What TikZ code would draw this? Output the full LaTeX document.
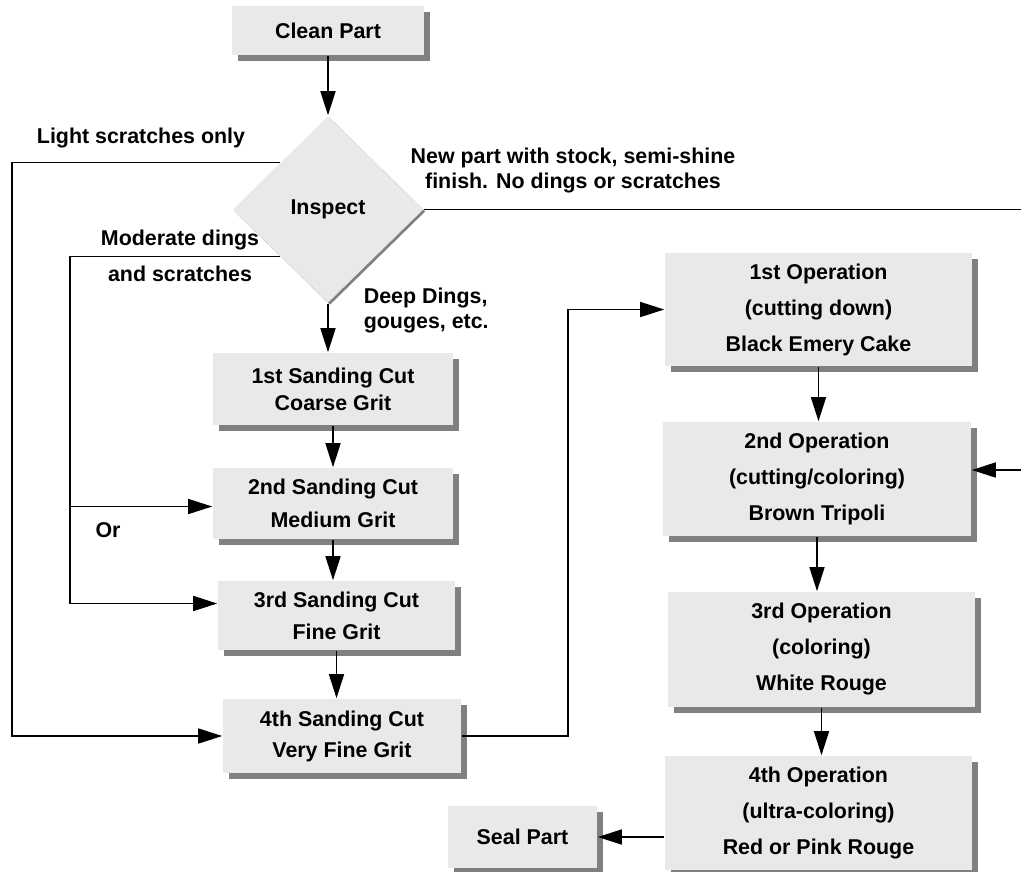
\documentclass[tikz,border=0pt]{standalone}
\usepackage{fontspec}
\setmainfont{Liberation Sans}
\usetikzlibrary{shapes.geometric, shadows}
\usetikzlibrary{arrows.meta}
\definecolor{boxgray}{RGB}{233,233,233}
\definecolor{shadowgray}{RGB}{128,128,128}

\begin{document}
\begin{tikzpicture}[x=1pt, y=-1pt, line width=1.6pt,
  font=\bfseries\fontsize{21.4}{26}\selectfont,
  box/.style={fill=boxgray, inner sep=0pt, align=center,
    drop shadow={shadow xshift=6pt, shadow yshift=-6pt, fill=shadowgray, opacity=1}},
  decision/.style={diamond, fill=boxgray, inner sep=0pt,
    drop shadow={shadow xshift=2pt, shadow yshift=-2pt, fill=shadowgray, opacity=1}},
  lbl/.style={inner sep=0pt, align=center},
  arr/.style={-{Triangle[length=24pt, width=15pt]}}]%
  \useasboundingbox (0,0) rectangle (1021,871);

  \node[box, minimum width=192pt, minimum height=49pt] (clean) at (328,30.5) {Clean Part};
  \node[decision, minimum width=191pt, minimum height=187pt] (insp) at (328,209.5) {Inspect};

  \node[box, minimum width=240pt, minimum height=72pt] (s1) at (333,389)
    {1st Sanding Cut\\[1pt]Coarse Grit};
  \node[box, minimum width=240pt, minimum height=71pt] (s2) at (333,503.5)
    {2nd Sanding Cut\\[7pt]Medium Grit};
  \node[box, minimum width=237pt, minimum height=69pt] (s3) at (336.5,615.5)
    {3rd Sanding Cut\\[6pt]Fine Grit};
  \node[box, minimum width=238pt, minimum height=74pt] (s4) at (342,736)
    {4th Sanding Cut\\[5pt]Very Fine Grit};

  \node[box, minimum width=307pt, minimum height=113pt] (op1) at (818.5,309.5)
    {1st Operation\\[10pt](cutting down)\\[10pt]Black Emery Cake};
  \node[box, minimum width=308pt, minimum height=114pt] (op2) at (817,479)
    {2nd Operation\\[10pt](cutting/coloring)\\[10pt]Brown Tripoli};
  \node[box, minimum width=307pt, minimum height=115pt] (op3) at (821.5,649.5)
    {3rd Operation\\[10pt](coloring)\\[10pt]White Rouge};
  \node[box, minimum width=307pt, minimum height=114pt] (op4) at (818.5,813)
    {4th Operation\\[10pt](ultra-coloring)\\[10pt]Red or Pink Rouge};
  \node[box, minimum width=149pt, minimum height=62pt] (seal) at (522.5,837) {Seal Part};

  \node[lbl] (light) at (141,138) {Light scratches only};
  \node[lbl] (moder) at (180,256) {Moderate dings\\[10pt]and scratches};
  \node[lbl] (or) at (108,530) {Or};
  \node[lbl] (newpart) at (573,170.5) {New part with stock, semi-shine\\[-1pt]finish. No dings or scratches};
  \node[lbl, align=left, anchor=west] (deep) at (363,310.5) {Deep Dings,\\[-1pt]gouges, etc.};

  \coordinate (lo) at (12,0);
  \coordinate (mo) at (70,0);
  \coordinate (up) at (568,0);
  \coordinate (rt) at (1030,0);
  \coordinate (s2in) at ([yshift=-3pt]s2.west);
  \coordinate (s3in) at ([yshift=12pt]s3.west);
  \coordinate (op2in) at ([yshift=9pt]op2.east);

  \foreach \a/\b in {clean/insp, insp/s1, s1/s2, s2/s3, s3/s4, op1/op2, op2/op3, op3/op4} {
    \draw[arr] (\a.south) -- (\a.south |- \b.north);
  }
  \draw[arr] (insp.north west) -| (lo |- s4.west) -- (s4.west);
  \draw[arr] (insp.south west) -| (mo |- s3in) -- (s3in);
  \draw[arr] (mo |- s2in) -- (s2in);
  \draw[arr] (s4.east) -| (up |- op1.west) -- (op1.west);
  \draw (insp.east) -- (insp.east -| rt);
  \draw[arr] (rt |- op2in) -- (op2in);
  \draw[arr] (op4.west |- seal.east) -- (seal.east);
\end{tikzpicture}
\end{document}
